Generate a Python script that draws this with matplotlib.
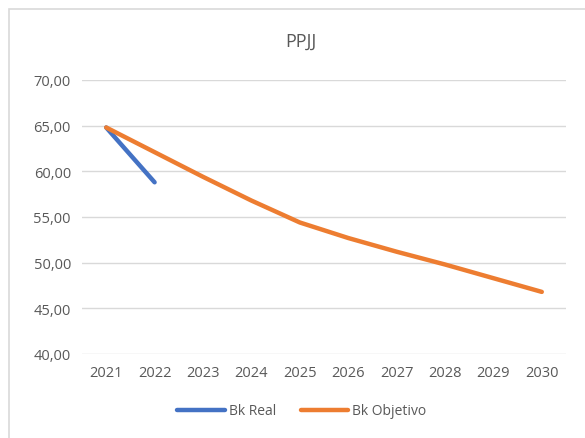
import matplotlib
matplotlib.use("Agg")
import matplotlib.pyplot as plt
from matplotlib.patches import Rectangle

years = ["2021", "2022", "2023", "2024", "2025", "2026", "2027", "2028", "2029", "2030"]
bk_real = [64.8, 58.8]
bk_objetivo = [64.8, 62.1, 59.4, 56.8, 54.4, 52.7, 51.2, 49.8, 48.3, 46.8]
yticks = [40, 45, 50, 55, 60, 65, 70]

plt.rcParams['font.family'] = ['Open Sans', 'DejaVu Sans']
fig = plt.figure(figsize=(5.85, 4.39), dpi=100)
fig.patch.set_facecolor("white")
fig.patches.append(Rectangle((9/585, -0.1), 1.0, 1 - 10/439 + 0.1, transform=fig.transFigure,
                             fill=False, edgecolor="#d9d9d9", linewidth=1.2))

ax = fig.add_axes([82/585, 1 - 355/439, (566 - 82)/585, (355 - 81)/439])
x = list(range(len(years)))
ax.plot(x[:len(bk_real)], bk_real, color="#4472c4", linewidth=3.2, solid_capstyle="round", label="Bk Real", zorder=3)
ax.plot(x, bk_objetivo, color="#ed7d31", linewidth=3.2, solid_capstyle="round", label="Bk Objetivo", zorder=3)

ax.set_xlim(-0.5, len(years) - 0.5)
ax.set_ylim(40, 70)
ax.set_yticks(yticks)
ax.set_yticklabels([f"{v:.2f}".replace(".", ",") for v in yticks])
ax.set_xticks(x)
ax.set_xticklabels(years)
ax.grid(axis="y", color="#d9d9d9", linewidth=1)
ax.set_axisbelow(True)
for s in ax.spines.values():
    s.set_visible(False)
ax.tick_params(length=0, labelsize=10.5, colors="#595959", pad=8)
ax.patch.set_alpha(0)

fig.text(301/585, 1 - 42/439, "PPJJ", ha="center", va="center", fontsize=13, color="#595959")
leg = fig.legend(loc="center", bbox_to_anchor=(302/585, 1 - 412/439), ncol=2, frameon=False,
                 fontsize=10, handlelength=3.4, columnspacing=1.8, handletextpad=0.3)
for t in leg.get_texts():
    t.set_color("#595959")

fig.savefig("out.png", dpi=100, facecolor="white")
